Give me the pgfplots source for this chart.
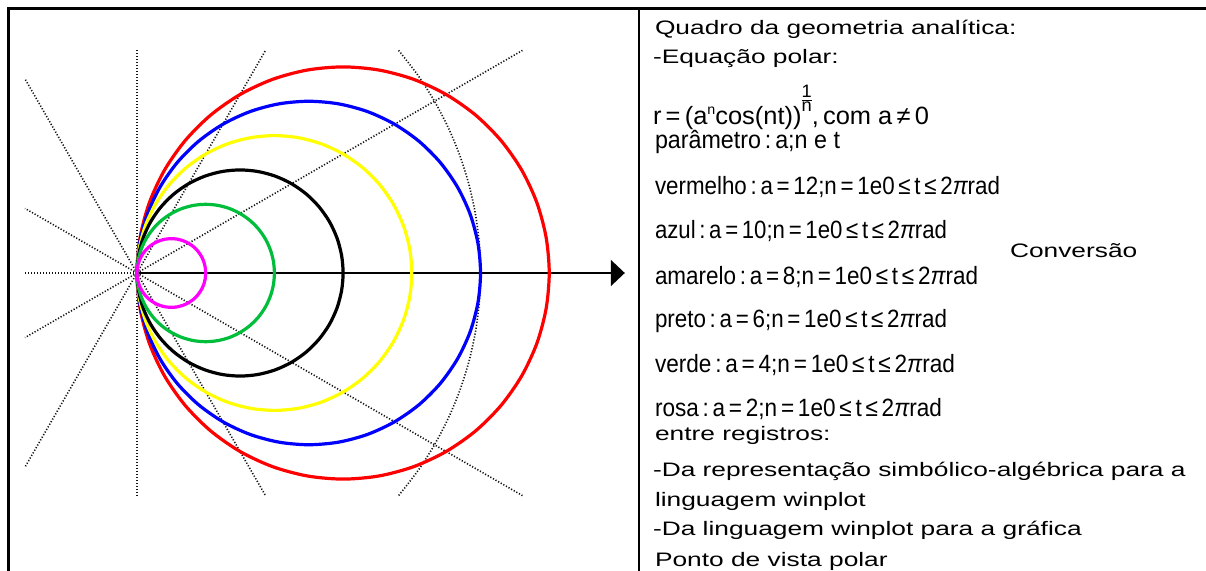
\documentclass[border=0pt]{standalone}
\usepackage{pgfplots}
\usepackage{pgfplotstable}
\pgfplotsset{compat=1.18}
\usetikzlibrary{arrows.meta}
\usepackage{fontspec}
\setmainfont{Liberation Sans}
\newfontfamily\wide[FakeStretch=1.35]{Liberation Sans}
\definecolor{cgreen}{RGB}{0,190,60}
\definecolor{cmag}{RGB}{255,0,255}
\definecolor{cyel}{RGB}{255,255,0}
\definecolor{dotc}{RGB}{20,20,20}
\newcommand\mline[2]{\resizebox{#1pt}{\height}{\fontsize{12.5}{14}\selectfont #2}}
% r = a cos t, t in degrees (a = 12, 10, 8, 6, 4, 2)
\pgfplotstableread{
t r12 r10 r8 r6 r4 r2
-90 0 0 0 0 0 0
-85 1.046 0.872 0.697 0.523 0.349 0.174
-80 2.084 1.736 1.389 1.042 0.695 0.347
-75 3.106 2.588 2.071 1.553 1.035 0.518
-70 4.104 3.420 2.736 2.052 1.368 0.684
-65 5.071 4.226 3.381 2.536 1.690 0.845
-60 6 5 4 3 2 1
-55 6.883 5.736 4.589 3.441 2.294 1.147
-50 7.713 6.428 5.142 3.857 2.571 1.286
-45 8.485 7.071 5.657 4.243 2.828 1.414
-40 9.192 7.660 6.128 4.596 3.064 1.532
-35 9.830 8.192 6.553 4.915 3.277 1.638
-30 10.392 8.660 6.928 5.196 3.464 1.732
-25 10.876 9.063 7.250 5.438 3.625 1.813
-20 11.276 9.397 7.518 5.638 3.759 1.879
-15 11.591 9.659 7.727 5.796 3.864 1.932
-10 11.818 9.848 7.878 5.909 3.939 1.970
-5 11.954 9.962 7.970 5.977 3.985 1.992
0 12 10 8 6 4 2
5 11.954 9.962 7.970 5.977 3.985 1.992
10 11.818 9.848 7.878 5.909 3.939 1.970
15 11.591 9.659 7.727 5.796 3.864 1.932
20 11.276 9.397 7.518 5.638 3.759 1.879
25 10.876 9.063 7.250 5.438 3.625 1.813
30 10.392 8.660 6.928 5.196 3.464 1.732
35 9.830 8.192 6.553 4.915 3.277 1.638
40 9.192 7.660 6.128 4.596 3.064 1.532
45 8.485 7.071 5.657 4.243 2.828 1.414
50 7.713 6.428 5.142 3.857 2.571 1.286
55 6.883 5.736 4.589 3.441 2.294 1.147
60 6 5 4 3 2 1
65 5.071 4.226 3.381 2.536 1.690 0.845
70 4.104 3.420 2.736 2.052 1.368 0.684
75 3.106 2.588 2.071 1.553 1.035 0.518
80 2.084 1.736 1.389 1.042 0.695 0.347
85 1.046 0.872 0.697 0.523 0.349 0.174
}\circtab
\begin{document}
\begin{tikzpicture}
\begin{scope}[x=0.5pt,y=0.5pt]
\useasboundingbox (0,0) rectangle (1206,569);
% frame
\draw[line width=1.5pt] (8,-60) -- (8,560) -- (1300,560);
\draw[line width=1.2pt] (639,560) -- (639,-60);
\end{scope}
\begin{axis}[at={(68.5pt,148pt)}, anchor=origin, scale only axis,
  width=299.9pt, height=222.6pt,
  xmin=-3.26, xmax=14.2, ymin=-6.48, ymax=6.48,
  hide axis, clip=false,
  dotl/.style={dotc, line width=0.8pt, dash pattern=on 0.6pt off 0.9pt, forget plot},
  circ/.style={line width=1.6pt, smooth cycle, data cs=polar, mark=none}]
% polar grid rays
\addplot[dotl] coordinates {(0,0) (11.22,6.48)};
\addplot[dotl] coordinates {(0,0) (3.74,6.48)};
\addplot[dotl] coordinates {(0,0) (0,6.48)};
\addplot[dotl] coordinates {(0,0) (-3.26,5.65)};
\addplot[dotl] coordinates {(0,0) (-3.26,1.88)};
\addplot[dotl] coordinates {(0,0) (-3.26,0)};
\addplot[dotl] coordinates {(0,0) (-3.26,-1.88)};
\addplot[dotl] coordinates {(0,0) (-3.26,-5.65)};
\addplot[dotl] coordinates {(0,0) (0,-6.48)};
\addplot[dotl] coordinates {(0,0) (3.74,-6.48)};
\addplot[dotl] coordinates {(0,0) (11.22,-6.48)};
% grid circle r = 10
\addplot[dotl, smooth] coordinates {(7.615,6.481) (8.192,5.736) (8.660,5.000) (9.063,4.226) (9.397,3.420) (9.659,2.588) (9.848,1.736) (9.962,0.872) (10,0) (9.962,-0.872) (9.848,-1.736) (9.659,-2.588) (9.397,-3.420) (9.063,-4.226) (8.660,-5.000) (8.192,-5.736) (7.615,-6.481)};
% polar axis
\addplot[black, line width=1pt, -{Triangle[length=7pt,width=13pt]}] coordinates {(0,0) (14.2,0)};
% r = a cos t
\addplot[circ, red] table[x=t, y=r12] {\circtab};
\addplot[circ, blue] table[x=t, y=r10] {\circtab};
\addplot[circ, cyel] table[x=t, y=r8] {\circtab};
\addplot[circ, black] table[x=t, y=r6] {\circtab};
\addplot[circ, cgreen] table[x=t, y=r4] {\circtab};
\addplot[circ, cmag] table[x=t, y=r2] {\circtab};
\end{axis}
\begin{scope}[x=0.5pt,y=0.5pt,every node/.style={inner sep=0pt,outer sep=0pt}]
% right-hand text
\begin{scope}[every node/.append style={anchor=base west, font=\fontsize{9.75}{11}\selectfont\wide}]
\node at (655,534) {Quadro da geometria analítica:};
\node at (653,505) {-Equação polar:};
\node at (655,128) {entre registros:};
\node at (653,92) {-Da representação simbólico-algébrica para a};
\node at (655,62) {linguagem winplot};
\node at (653,34) {-Da linguagem winplot para a gráfica};
\node at (655,3) {Ponto de vista polar};
\node at (1010,311) {Conversão};
\end{scope}
\begin{scope}[every node/.append style={anchor=base west}]
\node at (653,444) {\mline{138}{r\,=\,(a\raisebox{0.8ex}{\fontsize{7}{7}\selectfont n}cos(nt))\raisebox{10pt}{\fontsize{9}{9}\selectfont\renewcommand\arraystretch{0.7}\begin{tabular}{@{}c@{}}1\\[-1pt]\hline\noalign{\vskip0.8pt}n\end{tabular}},\,com a\,≠\,0}};
\node at (655,420) {\mline{92.5}{parâmetro\,:\,a;n e t}};
\node at (655,374) {\mline{172.5}{vermelho\,:\,a\,=\,12;n\,=\,1e0\,≤\,t\,≤\,2{\itshape π}rad}};
\node at (655,330) {\mline{146}{azul\,:\,a\,=\,10;n\,=\,1e0\,≤\,t\,≤\,2{\itshape π}rad}};
\node at (655,284) {\mline{161.5}{amarelo\,:\,a\,=\,8;n\,=\,1e0\,≤\,t\,≤\,2{\itshape π}rad}};
\node at (655,242) {\mline{146}{preto\,:\,a\,=\,6;n\,=\,1e0\,≤\,t\,≤\,2{\itshape π}rad}};
\node at (655,196) {\mline{150}{verde\,:\,a\,=\,4;n\,=\,1e0\,≤\,t\,≤\,2{\itshape π}rad}};
\node at (655,153) {\mline{143.5}{rosa\,:\,a\,=\,2;n\,=\,1e0\,≤\,t\,≤\,2{\itshape π}rad}};
\end{scope}
\end{scope}
\end{tikzpicture}
\end{document}
